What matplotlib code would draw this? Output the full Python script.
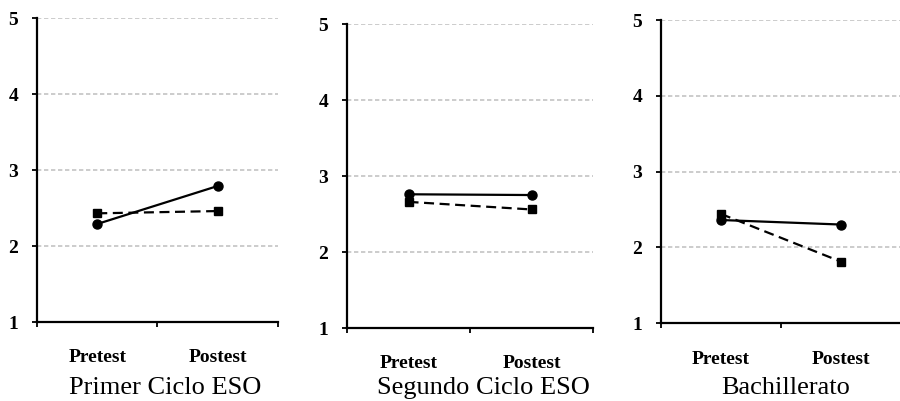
import matplotlib.pyplot as plt
from matplotlib.transforms import blended_transform_factory

plt.rcParams['font.family'] = ['Liberation Serif', 'DejaVu Serif']

momentos = ['Pretest', 'Postest']
niveles = ['Primer Ciclo ESO', 'Segundo Ciclo ESO', 'Bachillerato']

# solid line with circles / dashed line with squares
serie_circulo = [[2.29, 2.79], [2.76, 2.75], [2.36, 2.30]]
serie_cuadrado = [[2.43, 2.46], [2.66, 2.56], [2.44, 1.81]]

y_ticks = [1, 2, 3, 4, 5]

# axes boxes in figure fractions (left, bottom, width, height)
cajas = [
    [0.0411, 0.197, 0.2678, 0.758],
    [0.3856, 0.182, 0.2733, 0.758],
    [0.7344, 0.1945, 0.2667, 0.7555],
]
# vertical place of category labels and the panel titles (figure fraction)
y_momento = [1 - 358 / 401, 1 - 363 / 401, 1 - 360 / 401]
y_nivel = 1 - 388 / 401
x_nivel = [165 / 900, 483 / 900, 786 / 900]

fig = plt.figure(figsize=(9, 4.01), dpi=100)

for i in range(3):
    ax = fig.add_axes(cajas[i])
    x = range(len(momentos))
    ax.plot(x, serie_circulo[i], '-', color='black', lw=1.6,
            marker='o', markersize=6.5, zorder=3)
    ax.plot(x, serie_cuadrado[i], '--', color='black', lw=1.6,
            marker='s', markersize=6, dashes=(4.5, 2.5), zorder=3)

    ax.set_xlim(-0.5, 1.5)
    ax.set_ylim(1, 5)
    ax.set_yticks(y_ticks)
    ax.set_yticklabels([str(t) for t in y_ticks], fontweight='bold', fontsize=14)
    ax.yaxis.grid(True, color='#c4c4c4', linestyle=(0, (2.6, 1.6)), lw=1.2)
    ax.set_axisbelow(True)

    ax.set_xticks([-0.5, 0.5, 1.5])
    ax.set_xticklabels([])
    ax.tick_params(axis='x', length=3.6, width=1.3, direction='out')
    ax.tick_params(axis='y', length=3.6, width=1.3, direction='out', pad=10)

    tr = blended_transform_factory(ax.transData, fig.transFigure)
    for j, m in enumerate(momentos):
        ax.text(j, y_momento[i], m, transform=tr, ha='center', va='center',
                fontweight='bold', fontsize=14)
    fig.text(x_nivel[i], y_nivel, niveles[i], ha='center', va='center',
             fontsize=19)

    for s in ['top', 'right']:
        ax.spines[s].set_visible(False)
    for s in ['left', 'bottom']:
        ax.spines[s].set_linewidth(1.6)

fig.savefig('out.png', dpi=100)
